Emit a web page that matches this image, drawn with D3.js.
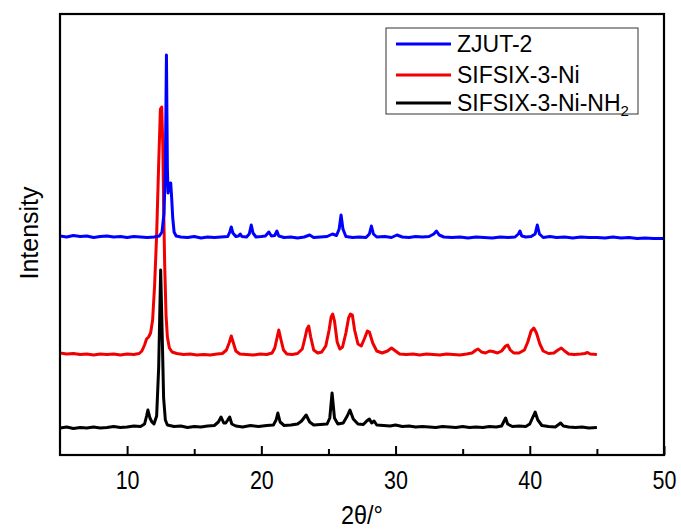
<!DOCTYPE html>
<html>
<head>
<meta charset="utf-8">
<script src="https://cdn.jsdelivr.net/npm/d3@7"></script>
<style>
  body { margin: 0; background: #fff; }
  svg text { font-family: "Liberation Sans", Arial, sans-serif; fill: #000; }
</style>
</head>
<body>
<svg id="chart" width="681" height="529"></svg>
<script>
// XRD patterns, [2theta, intensity above the series' own baseline] (a.u.)
var zjut2 = [[5.0,20],[5.5,10],[6.0,25],[6.5,15],[7.0,20],[7.5,5],[8.0,15],[8.5,20],[9.0,10],[9.5,15],[10.0,5],[10.5,15],[11.0,10],[11.5,5],[12.0,10],[12.4,20],[12.6,60],[12.75,250],[12.85,700],[12.93,1830],[13.0,700],[13.05,450],[13.12,550],[13.2,520],[13.25,550],[13.32,400],[13.4,200],[13.5,60],[13.65,20],[14.0,10],[14.5,5],[15.0,15],[15.5,0],[16.0,10],[16.5,5],[17.0,10],[17.5,15],[17.65,60],[17.76,110],[17.88,50],[18.1,15],[18.3,20],[18.43,40],[18.55,15],[18.9,10],[19.1,40],[19.25,130],[19.38,50],[19.6,10],[20.0,15],[20.3,20],[20.56,60],[20.75,20],[21.0,25],[21.16,70],[21.3,20],[21.7,5],[22.2,10],[22.7,0],[23.2,10],[23.6,30],[23.9,5],[24.4,10],[24.9,15],[25.3,40],[25.6,25],[25.8,90],[25.94,230],[26.08,90],[26.3,15],[26.8,5],[27.3,10],[27.8,5],[28.05,40],[28.2,120],[28.35,40],[28.6,10],[29.2,15],[29.7,5],[30.1,30],[30.5,10],[31.0,5],[31.5,15],[32.0,10],[32.5,15],[32.85,40],[33.05,70],[33.25,30],[33.6,10],[34.2,5],[34.8,10],[35.4,0],[36.0,10],[36.6,5],[37.2,0],[37.8,10],[38.4,5],[38.9,10],[39.15,40],[39.27,70],[39.4,20],[39.7,10],[40.1,15],[40.4,40],[40.56,130],[40.72,40],[41.0,5],[41.5,15],[42.0,5],[42.6,10],[43.2,0],[43.8,10],[44.4,5],[45.0,5],[45.6,0],[46.2,10],[46.8,0],[47.4,5],[48.0,-5],[48.6,0],[49.2,-5],[50.0,-5]];

var sifsix3ni = [[5.0,20],[5.5,10],[6.0,15],[6.5,5],[7.0,10],[7.5,0],[8.0,10],[8.5,5],[9.0,10],[9.5,0],[10.0,10],[10.5,5],[10.9,15],[11.1,40],[11.3,100],[11.45,160],[11.6,180],[11.75,220],[11.9,350],[12.05,700],[12.2,1200],[12.35,1900],[12.48,2460],[12.58,2480],[12.66,2100],[12.72,1500],[12.8,900],[12.9,400],[13.0,180],[13.15,70],[13.35,30],[13.7,15],[14.2,5],[14.7,10],[15.2,0],[15.7,5],[16.2,0],[16.7,10],[17.1,15],[17.4,50],[17.6,120],[17.76,190],[17.92,120],[18.1,40],[18.4,10],[18.9,5],[19.4,0],[19.9,10],[20.4,5],[20.8,20],[21.0,70],[21.15,160],[21.3,250],[21.45,160],[21.65,50],[21.9,10],[22.3,5],[22.7,15],[23.05,60],[23.25,170],[23.4,260],[23.53,290],[23.68,180],[23.9,50],[24.2,20],[24.5,30],[24.8,90],[25.05,250],[25.2,380],[25.32,410],[25.45,340],[25.65,130],[25.85,60],[26.05,80],[26.3,220],[26.5,370],[26.64,410],[26.78,400],[26.95,250],[27.2,110],[27.45,90],[27.7,170],[27.9,240],[28.05,230],[28.3,120],[28.6,40],[29.0,20],[29.4,40],[29.7,70],[30.0,40],[30.3,10],[30.8,5],[31.3,10],[31.8,0],[32.3,10],[32.8,5],[33.3,0],[33.8,10],[34.3,5],[34.8,0],[35.3,10],[35.7,20],[36.0,50],[36.15,60],[36.4,30],[36.7,20],[37.0,40],[37.25,35],[37.6,20],[37.9,40],[38.2,90],[38.35,100],[38.55,50],[38.8,20],[39.2,20],[39.6,50],[39.85,130],[40.1,240],[40.3,270],[40.5,220],[40.75,110],[41.0,40],[41.4,15],[41.8,20],[42.1,50],[42.35,70],[42.6,40],[42.9,10],[43.3,5],[43.8,10],[44.1,15],[44.3,25],[44.5,10],[45.0,5]];

var sifsix3niNH2 = [[5.0,0],[5.5,10],[6.0,-5],[6.5,5],[7.0,0],[7.5,10],[8.0,0],[8.5,5],[9.0,15],[9.5,5],[10.0,10],[10.5,20],[11.0,15],[11.3,40],[11.45,120],[11.55,180],[11.7,100],[11.85,60],[12.0,40],[12.2,120],[12.35,600],[12.5,1580],[12.62,900],[12.72,300],[12.85,80],[13.0,30],[13.5,15],[14.0,20],[14.5,5],[15.0,15],[15.5,10],[16.0,20],[16.5,25],[16.8,60],[17.0,110],[17.2,50],[17.35,50],[17.5,80],[17.64,110],[17.8,40],[18.1,20],[18.6,10],[19.2,25],[19.8,15],[20.4,25],[20.9,30],[21.1,80],[21.23,150],[21.4,60],[21.7,25],[22.2,30],[22.7,40],[23.0,70],[23.34,130],[23.6,60],[23.9,30],[24.4,35],[24.9,40],[25.1,100],[25.27,350],[25.45,100],[25.7,40],[26.1,50],[26.4,120],[26.6,180],[26.85,90],[27.2,40],[27.6,35],[27.85,70],[28.05,90],[28.22,50],[28.4,70],[28.6,30],[29.1,25],[29.6,20],[30.0,30],[30.5,15],[31.0,20],[31.5,10],[32.0,15],[32.5,10],[33.0,5],[33.5,15],[34.0,10],[34.5,5],[35.0,15],[35.5,5],[36.0,10],[36.5,5],[37.0,15],[37.5,10],[37.9,20],[38.05,60],[38.2,100],[38.35,40],[38.7,15],[39.2,20],[39.7,15],[40.0,40],[40.2,100],[40.4,160],[40.6,80],[40.9,25],[41.4,15],[41.9,10],[42.1,30],[42.3,50],[42.5,20],[42.9,10],[43.4,5],[43.9,10],[44.4,0],[45.0,5]];

var seriesNames = ["ZJUT-2", "SIFSIX-3-Ni", "SIFSIX-3-Ni-NH2"];
var seriesData = [zjut2, sifsix3ni, sifsix3niNH2];
var seriesOffsets = [2170, 1000, 270];   // vertical stacking offset of each pattern
var seriesColors = ["#0000ff", "#f00000", "#000000"];
var drawOrder = [1, 2, 0];               // red, black, then blue on top

var xDomain = [5, 50];
var yDomain = [0, 4410];
var majorTicks = [10, 20, 30, 40, 50];
var minorTicks = [15, 25, 35, 45];

var svg = d3.select("#chart");
var margin = {left: 60, right: 17, top: 14, bottom: 74};
var W = 681, H = 529;

var x = d3.scaleLinear().domain(xDomain).range([margin.left, W - margin.right]);
var y = d3.scaleLinear().domain(yDomain).range([H - margin.bottom, margin.top]);

var line = d3.line()
    .x(function (d) { return x(d[0]); })
    .y(function (d) { return y(d[1] + d.off); });

drawOrder.forEach(function (i) {
    var pts = seriesData[i].map(function (d) { var p = d.slice(); p.off = seriesOffsets[i]; return p; });
    svg.append("path")
        .attr("d", line(pts))
        .attr("fill", "none")
        .attr("stroke", seriesColors[i])
        .attr("stroke-width", 3)
        .attr("stroke-linejoin", "round");
});

// frame
svg.append("rect")
    .attr("x", x(xDomain[0]))
    .attr("y", y(yDomain[1]))
    .attr("width", x(xDomain[1]) - x(xDomain[0]))
    .attr("height", y(yDomain[0]) - y(yDomain[1]))
    .attr("fill", "none")
    .attr("stroke", "#000")
    .attr("stroke-width", 2.2);

var xAxis = svg.append("g")
    .attr("transform", "translate(0," + y(yDomain[0]) + ")")
    .call(d3.axisBottom(x).tickValues(majorTicks).tickSize(-9).tickPadding(16).tickFormat(d3.format("d")));
xAxis.select(".domain").remove();
xAxis.selectAll("line").attr("stroke-width", 2);
// the reference's lettering is a little narrow for its height
xAxis.selectAll("text")
    .attr("font-size", 25)
    .attr("transform", "scale(0.86,1)")
    .style("font-family", "'Liberation Sans', Arial, sans-serif");

var xMinor = svg.append("g")
    .attr("transform", "translate(0," + y(yDomain[0]) + ")")
    .call(d3.axisBottom(x).tickValues(minorTicks).tickSize(-6).tickFormat(""));
xMinor.select(".domain").remove();
xMinor.selectAll("line").attr("stroke-width", 2);

// axis titles
svg.append("text")
    .attr("transform", "translate(" + ((x(xDomain[0]) + x(xDomain[1])) / 2) + ",524) scale(0.9,1)")
    .attr("text-anchor", "middle")
    .attr("font-size", 26)
    .text("2θ/°");

svg.append("text")
    .attr("transform", "translate(38," + 233 + ") rotate(-90)")
    .attr("text-anchor", "middle")
    .attr("font-size", 25)
    .text("Intensity");

// legend
var lg = svg.append("g").attr("transform", "translate(386,28)");
lg.append("rect")
    .attr("width", 252).attr("height", 86)
    .attr("fill", "#fff").attr("stroke", "#333").attr("stroke-width", 1);
var rowY = [16, 47, 75];
seriesNames.forEach(function (name, i) {
    lg.append("line")
        .attr("x1", 10).attr("x2", 65)
        .attr("y1", rowY[i]).attr("y2", rowY[i])
        .attr("stroke", seriesColors[i]).attr("stroke-width", 3);
    var t = lg.append("text")
        .attr("x", 71).attr("y", rowY[i] + 8)
        .attr("font-size", 23);
    if (name.slice(-3) === "NH2") {
        t.text(name.slice(0, -1));
        t.append("tspan").attr("font-size", 15).attr("dy", 5).text("2");
    } else {
        t.text(name);
    }
});
</script>
</body>
</html>
